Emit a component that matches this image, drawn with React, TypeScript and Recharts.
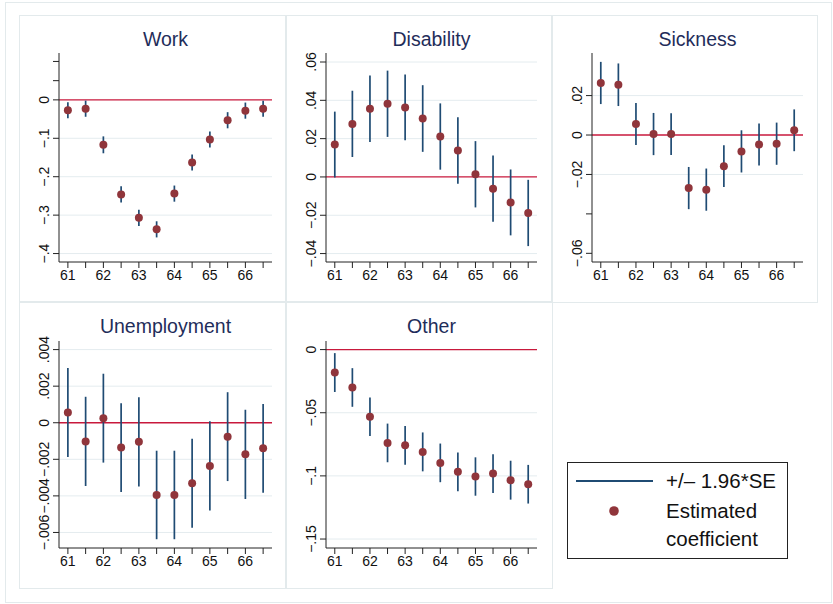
import { ScatterChart, Scatter, XAxis, YAxis, ErrorBar, ReferenceLine } from "recharts";

const ages = [61, 61.5, 62, 62.5, 63, 63.5, 64, 64.5, 65, 65.5, 66, 66.5];

const workCoef = [-0.027, -0.023, -0.117, -0.246, -0.307, -0.337, -0.244, -0.163, -0.103, -0.053, -0.028, -0.023];
const workCi = [0.021, 0.021, 0.022, 0.021, 0.021, 0.021, 0.021, 0.021, 0.021, 0.021, 0.021, 0.021];

const disabilityCoef = [0.0169, 0.0277, 0.0356, 0.0382, 0.0363, 0.0305, 0.0211, 0.0138, 0.0014, -0.0061, -0.0133, -0.0188];
const disabilityCi = [0.0172, 0.0173, 0.0173, 0.0173, 0.0172, 0.0174, 0.0173, 0.0173, 0.0173, 0.0173, 0.0172, 0.0173];

const sicknessCoef = [0.0264, 0.0255, 0.0056, 0.0005, 0.0005, -0.0269, -0.0277, -0.0158, -0.0083, -0.0048, -0.0044, 0.0024];
const sicknessCi = [0.0107, 0.0108, 0.0106, 0.0107, 0.0106, 0.0107, 0.0107, 0.0106, 0.0107, 0.0107, 0.0107, 0.0106];

const unempCoef = [0.00056, -0.00102, 0.00025, -0.00136, -0.00104, -0.00395, -0.00395, -0.00331, -0.00236, -0.00076, -0.00173, -0.0014];
const unempCi = [0.00243, 0.00244, 0.00243, 0.00243, 0.00244, 0.00242, 0.00242, 0.00243, 0.00244, 0.00243, 0.00244, 0.00243];

const otherCoef = [-0.0182, -0.03, -0.0532, -0.0739, -0.0758, -0.081, -0.0897, -0.0968, -0.1005, -0.0982, -0.1034, -0.1066];
const otherCi = [0.0154, 0.0153, 0.0152, 0.0153, 0.0153, 0.0154, 0.0153, 0.0153, 0.0152, 0.0153, 0.0154, 0.0153];

// y ticks: all tick marks, the ones that carry a label, and grid lines
const workTicks = [-0.4, -0.3, -0.2, -0.1, 0, 0.05, 0.1];
const workLabels = [-0.4, -0.3, -0.2, -0.1, 0];
const disabilityTicks = [-0.04, -0.02, 0, 0.02, 0.04, 0.06];
const sicknessTicks = [-0.06, -0.04, -0.02, 0, 0.02];
const sicknessLabels = [-0.06, -0.02, 0, 0.02];
const unempTicks = [-0.006, -0.004, -0.002, 0, 0.002, 0.004];
const otherTicks = [-0.15, -0.1, -0.05, 0];

const FONT = "'Liberation Sans', Arial, sans-serif";
const NAVY = "#1f4b73";
const MAROON = "#90353b";
const ZERO = "#c8193c";
const GRID = "#e4ecef";
const FRAME = "#e3eaec";

const fmt = (v: number) => {
  if (v === 0) return "0";
  const s = String(Math.abs(v)).replace(/^0/, "");
  return (v < 0 ? "\u2212" : "") + s;
};

const build = (coef: number[], ci: number[]) =>
  ages.map((age, i) => ({ age, coef: coef[i], ci: ci[i] }));

const XTick = ({ x, y, payload }: any) =>
  Number.isInteger(payload.value) ? (
    <text x={x} y={y} dy="0.72em" textAnchor="middle" fontSize={14} fill="#111" fontFamily={FONT}>
      {payload.value}
    </text>
  ) : (
    <g />
  );

const makeYTick = (labels: number[]) => ({ x, y, payload }: any) =>
  labels.includes(payload.value) ? (
    <text
      x={x}
      y={y}
      transform={`rotate(-90, ${x}, ${y})`}
      textAnchor="middle"
      fontSize={14}
      fill="#111"
      fontFamily={FONT}
    >
      {fmt(payload.value)}
    </text>
  ) : (
    <g />
  );

const Dot = (props: any) => <circle cx={props.cx} cy={props.cy} r={4} fill={MAROON} />;

type PanelProps = {
  title: string;
  data: { age: number; coef: number; ci: number }[];
  domain: [number, number];
  ticks: number[];
  labels: number[];
  grid: number[];
  left: number;
  top: number;
  width: number;
  height: number;
  marginTop: number;
};

function Panel({ title, data, domain, ticks, labels, grid, left, top, width, height, marginTop }: PanelProps) {
  const plotLeft = left + 40;
  const plotW = width - 45;
  return (
    <>
      <div
        style={{
          position: "absolute",
          left: plotLeft,
          top: top + 13,
          width: plotW,
          textAlign: "center",
          fontSize: 19.5,
          lineHeight: "22px",
          color: "#1f2d5a",
          fontFamily: FONT,
        }}
      >
        {title}
      </div>
      <div style={{ position: "absolute", left, top }}>
        <ScatterChart width={width} height={height} margin={{ top: marginTop, right: 5, left: 0, bottom: 0 }}>
          {grid.map((g) => (
            <ReferenceLine key={g} y={g} stroke={GRID} strokeWidth={1} />
          ))}
          <ReferenceLine y={0} stroke={ZERO} strokeWidth={1.3} />
          <XAxis
            type="number"
            dataKey="age"
            domain={[60.75, 66.75]}
            allowDataOverflow
            ticks={ages}
            interval={0}
            height={30}
            tickSize={6}
            tickMargin={2}
            stroke="#222"
            tick={<XTick />}
          />
          <YAxis
            type="number"
            dataKey="coef"
            domain={domain}
            allowDataOverflow
            ticks={ticks}
            interval={0}
            width={40}
            tickSize={6}
            tickMargin={4}
            stroke="#222"
            tick={makeYTick(labels)}
          />
          <Scatter data={data} dataKey="coef" fill={MAROON} shape={<Dot />} isAnimationActive={false}>
            <ErrorBar dataKey="ci" direction="y" width={0} stroke={NAVY} strokeWidth={1.7} />
          </Scatter>
        </ScatterChart>
      </div>
    </>
  );
}

export default function App() {
  return (
    <div
      style={{
        position: "fixed",
        left: 0,
        top: 0,
        width: 833,
        height: 604,
        background: "#fff",
        fontFamily: FONT,
      }}
    >
      <div style={{ position: "absolute", left: 5, top: 2, width: 825, height: 599, border: `1px solid ${FRAME}` }} />
      <div style={{ position: "absolute", left: 19, top: 15, width: 266, height: 286, border: `1px solid ${FRAME}` }} />
      <div style={{ position: "absolute", left: 285, top: 15, width: 266, height: 286, border: `1px solid ${FRAME}` }} />
      <div style={{ position: "absolute", left: 551, top: 15, width: 265, height: 286, border: `1px solid ${FRAME}` }} />
      <div style={{ position: "absolute", left: 19, top: 301, width: 266, height: 286, border: `1px solid ${FRAME}` }} />
      <div style={{ position: "absolute", left: 285, top: 301, width: 266, height: 286, border: `1px solid ${FRAME}` }} />

      <Panel
        title="Work"
        data={build(workCoef, workCi)}
        domain={[-0.422, 0.122]}
        ticks={workTicks}
        labels={workLabels}
        grid={[-0.4, -0.3, -0.2, -0.1]}
        left={19}
        top={15}
        width={258}
        height={277}
        marginTop={38}
      />
      <Panel
        title="Disability"
        data={build(disabilityCoef, disabilityCi)}
        domain={[-0.0444, 0.0647]}
        ticks={disabilityTicks}
        labels={disabilityTicks}
        grid={[-0.04, -0.02, 0.02, 0.04, 0.06]}
        left={286}
        top={15}
        width={256}
        height={277}
        marginTop={38}
      />
      <Panel
        title="Sickness"
        data={build(sicknessCoef, sicknessCi)}
        domain={[-0.0644, 0.0416]}
        ticks={sicknessTicks}
        labels={sicknessLabels}
        grid={[-0.02, 0.02]}
        left={552}
        top={15}
        width={256}
        height={277}
        marginTop={38}
      />
      <Panel
        title="Unemployment"
        data={build(unempCoef, unempCi)}
        domain={[-0.00685, 0.00447]}
        ticks={unempTicks}
        labels={unempTicks}
        grid={[-0.006, -0.004, -0.002, 0.002, 0.004]}
        left={19}
        top={302}
        width={258}
        height={276}
        marginTop={39}
      />
      <Panel
        title="Other"
        data={build(otherCoef, otherCi)}
        domain={[-0.1571, 0.0068]}
        ticks={otherTicks}
        labels={otherTicks}
        grid={[-0.15, -0.1, -0.05]}
        left={286}
        top={302}
        width={256}
        height={276}
        marginTop={39}
      />

      <svg style={{ position: "absolute", left: 0, top: 0 }} width={833} height={604}>
        <rect x={567.5} y={462.5} width={220} height={96} fill="#fff" stroke="#222" strokeWidth={1} />
        <line x1={576} y1={481} x2={653} y2={481} stroke={NAVY} strokeWidth={1.8} />
        <circle cx={614} cy={511} r={4.8} fill={MAROON} />
        <text x={666} y={488} fontSize={20.5} fill="#111" fontFamily={FONT}>
          +/– 1.96*SE
        </text>
        <text x={666} y={518} fontSize={20.5} fill="#111" fontFamily={FONT}>
          Estimated
        </text>
        <text x={666} y={546} fontSize={20.5} fill="#111" fontFamily={FONT}>
          coefficient
        </text>
      </svg>
    </div>
  );
}
